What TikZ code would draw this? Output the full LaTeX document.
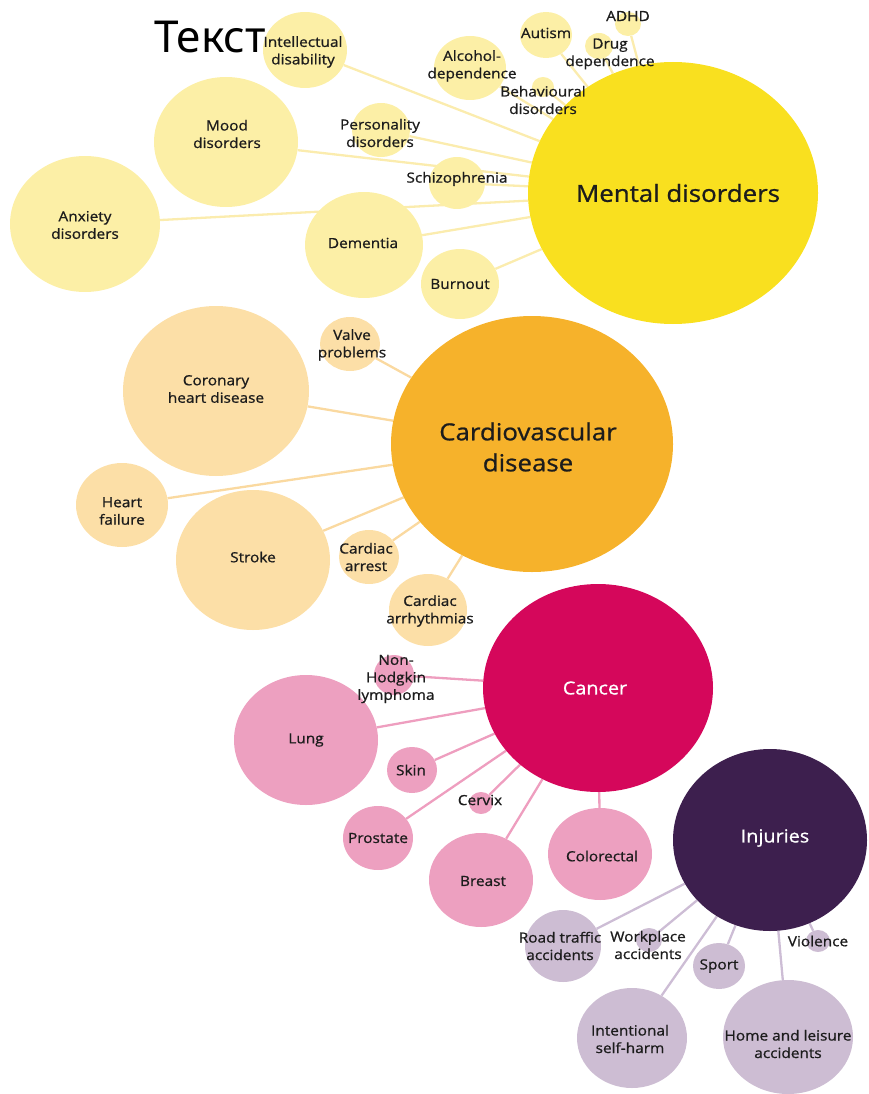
\documentclass[tikz,border=0pt]{standalone}
\usepackage{fontspec}
\setmainfont[FakeStretch=1.1,FakeBold=0.9]{Open Sans}
\newfontfamily\titlefont{Noto Sans}
\usetikzlibrary{shapes.geometric}
\pgfdeclarelayer{bg}
\pgfsetlayers{bg,main}
\definecolor{hubY}{HTML}{F9E01F}
\definecolor{satY}{HTML}{FCEFA6}
\definecolor{linY}{HTML}{FBECAE}
\definecolor{hubO}{HTML}{F6B22B}
\definecolor{satO}{HTML}{FCDFA7}
\definecolor{linO}{HTML}{FAD9A0}
\definecolor{hubP}{HTML}{D5075B}
\definecolor{satP}{HTML}{EDA0C0}
\definecolor{linP}{HTML}{EE9EBF}
\definecolor{hubV}{HTML}{3D1F4E}
\definecolor{satV}{HTML}{CDBDD3}
\definecolor{linV}{HTML}{CDBDD5}
\definecolor{txt}{HTML}{1C1C1C}
\begin{document}
\begin{tikzpicture}[x=1pt,y=-1pt,
  bub/.style={ellipse,inner sep=0pt,draw=none},
  ys/.style={bub,fill=satY}, os/.style={bub,fill=satO},
  ps/.style={bub,fill=satP}, vs/.style={bub,fill=satV},
  lab/.style={inner sep=0pt,align=center,text=txt,font=\fontsize{14}{17.5}\selectfont},
  hublab/.style={inner sep=0pt,align=center,text=txt,font=\fontsize{23.5}{31}\selectfont},
  hublab2/.style={inner sep=0pt,align=center,text=white,font=\fontsize{18}{22}\selectfont},
  lk/.style={line width=2.3pt}]
\useasboundingbox (0,0) rectangle (869,1094);
\clip (0,0) rectangle (869,1094);
% ---- Mental disorders
\node[bub,fill=hubY,minimum width=290pt,minimum height=262pt] (md) at (673,193) {};
\node[ys,minimum width=84pt,minimum height=76pt] (intel) at (305,50) {};
\node[ys,minimum width=144pt,minimum height=130pt] (mood) at (226,142) {};
\node[ys,minimum width=150pt,minimum height=136pt] (anx) at (85,224) {};
\node[ys,minimum width=58pt,minimum height=54pt] (pers) at (381,130) {};
\node[ys,minimum width=56pt,minimum height=52pt] (schiz) at (457,183) {};
\node[ys,minimum width=118pt,minimum height=106pt] (dem) at (364,245) {};
\node[ys,minimum width=78pt,minimum height=70pt] (burn) at (460,284) {};
\node[ys,minimum width=72pt,minimum height=64pt] (alc) at (470,68) {};
\node[ys,minimum width=52pt,minimum height=46pt] (aut) at (546,35) {};
\node[ys,minimum width=26pt,minimum height=24pt] (adhd) at (628,24) {};
\node[ys,minimum width=28pt,minimum height=26pt] (drug) at (599,46) {};
\node[ys,minimum width=22pt,minimum height=20pt] (behav) at (543,87) {};
% ---- Cardiovascular
\node[bub,fill=hubO,minimum width=282pt,minimum height=256pt] (cvd) at (532,444) {};
\node[os,minimum width=60pt,minimum height=54pt] (valve) at (350,344) {};
\node[os,minimum width=186pt,minimum height=170pt] (chd) at (216,391) {};
\node[os,minimum width=92pt,minimum height=84pt] (hf) at (122,505) {};
\node[os,minimum width=154pt,minimum height=140pt] (stroke) at (253,560) {};
\node[os,minimum width=60pt,minimum height=54pt] (arrest) at (369,557) {};
\node[os,minimum width=78pt,minimum height=72pt] (arrh) at (428,610) {};
% ---- Cancer
\node[bub,fill=hubP,minimum width=230pt,minimum height=208pt] (can) at (598,688) {};
\node[ps,minimum width=40pt,minimum height=40pt] (nhl) at (394,675) {};
\node[ps,minimum width=144pt,minimum height=130pt] (lung) at (306,740) {};
\node[ps,minimum width=50pt,minimum height=46pt] (skin) at (412,770) {};
\node[ps,minimum width=24pt,minimum height=22pt] (cerv) at (481,803) {};
\node[ps,minimum width=70pt,minimum height=64pt] (prost) at (378,838) {};
\node[ps,minimum width=104pt,minimum height=94pt] (breast) at (481,880) {};
\node[ps,minimum width=104pt,minimum height=92pt] (colo) at (600,854) {};
% ---- Injuries
\node[bub,fill=hubV,minimum width=194pt,minimum height=182pt] (inj) at (770,840) {};
\node[vs,minimum width=76pt,minimum height=72pt] (road) at (563,946) {};
\node[vs,minimum width=26pt,minimum height=24pt] (work) at (649,940) {};
\node[vs,minimum width=52pt,minimum height=46pt] (sport) at (719,966) {};
\node[vs,minimum width=24pt,minimum height=22pt] (viol) at (818,941) {};
\node[vs,minimum width=110pt,minimum height=100pt] (self) at (632,1038) {};
\node[vs,minimum width=130pt,minimum height=114pt] (home) at (788,1037) {};
% ---- connectors
\begin{pgfonlayer}{bg}
\foreach \s in {intel,mood,anx,pers,schiz,dem,burn,alc,aut,adhd,drug,behav}
  \draw[lk,linY] (\s) -- (md);
\foreach \s in {valve,chd,hf,stroke,arrest,arrh}
  \draw[lk,linO] (\s) -- (cvd);
\foreach \s in {nhl,lung,skin,cerv,prost,breast,colo}
  \draw[lk,linP] (\s) -- (can);
\foreach \s in {road,work,sport,viol,self,home}
  \draw[lk,linV] (\s) -- (inj);
\end{pgfonlayer}
% ---- labels
\node[hublab] (t-md) at (678,193) {Mental disorders};
\node[lab] (t-intel) at (303,52) {Intellectual\\disability};
\node[lab] (t-mood) at (227,134) {Mood\\disorders};
\node[lab] (t-anx) at (85,225) {Anxiety\\disorders};
\node[lab] (t-pers) at (380,133) {Personality\\disorders};
\node[lab] (t-schiz) at (457,179) {Schizophrenia};
\node[lab] (t-dem) at (363,243) {Dementia};
\node[lab] (t-burn) at (460,284) {Burnout};
\node[lab] (t-alc) at (472,66) {Alcohol-\\dependence};
\node[lab] (t-aut) at (546,33) {Autism};
\node[lab] (t-adhd) at (628,16) {ADHD};
\node[lab] (t-drug) at (610,54) {Drug\\dependence};
\node[lab] (t-behav) at (543,100) {Behavioural\\disorders};
\node[hublab] (t-cvd) at (528,447) {Cardiovascular\\disease};
\node[lab] (t-valve) at (352,345) {Valve\\problems};
\node[lab] (t-chd) at (216,389) {Coronary\\heart disease};
\node[lab] (t-hf) at (122,511) {Heart\\failure};
\node[lab] (t-stroke) at (253,557) {Stroke};
\node[lab] (t-arrest) at (366,557) {Cardiac\\arrest};
\node[lab] (t-arrh) at (430,611) {Cardiac\\arrhythmias};
\node[hublab2] (t-can) at (595,688) {Cancer};
\node[lab] (t-nhl) at (396,679) {Non-\\Hodgkin\\lymphoma};
\node[lab] (t-lung) at (306,740) {Lung};
\node[lab] (t-skin) at (411,770) {Skin};
\node[lab] (t-cerv) at (480,800) {Cervix};
\node[lab] (t-prost) at (378,838) {Prostate};
\node[lab] (t-breast) at (483,881) {Breast};
\node[lab] (t-colo) at (602,856) {Colorectal};
\node[hublab2] (t-inj) at (775,838) {Injuries};
\node[lab] (t-road) at (560,946) {Road traffic\\accidents};
\node[lab] (t-work) at (648,945) {Workplace\\accidents};
\node[lab] (t-sport) at (719,966) {Sport};
\node[lab] (t-viol) at (818,941) {Violence};
\node[lab] (t-self) at (630,1039) {Intentional\\self-harm};
\node[lab] (t-home) at (788,1044) {Home and leisure\\accidents};
% ---- title
\node[inner sep=0pt,font=\titlefont\fontsize{44}{50}\selectfont] (title) at (210,37) {Текст};
\end{tikzpicture}
\end{document}
